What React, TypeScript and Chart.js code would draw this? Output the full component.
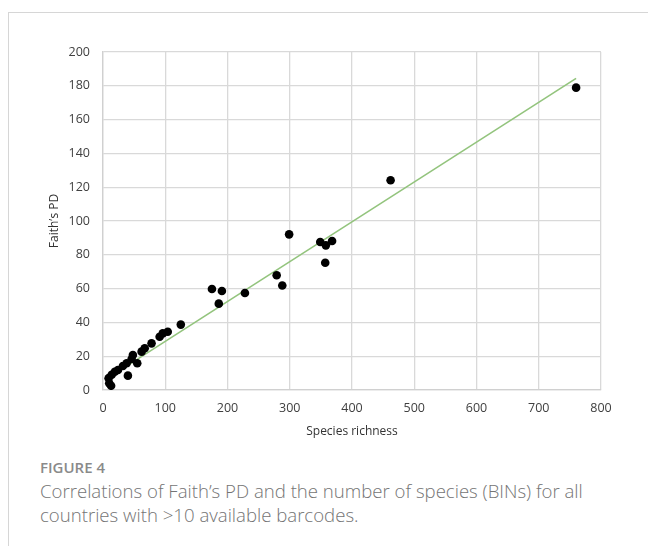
import React, { useEffect, useRef } from "react";
import { Chart, registerables } from "chart.js";

Chart.register(...registerables);

const speciesRichness = [9, 10, 13, 14, 19, 24, 32, 38, 40, 46, 48, 55, 62, 67, 78, 91, 96, 104, 125, 175, 186, 191, 228, 279, 288, 299, 349, 358, 357, 368, 462, 760];
const faithPD = [7, 4, 2.5, 9, 10.8, 11.8, 14.2, 15.8, 8.5, 18.3, 20.7, 15.8, 22.7, 24.7, 27.6, 31.5, 33.5, 34.5, 38.7, 59.8, 51.1, 58.6, 57.4, 67.9, 61.8, 92.1, 87.6, 85.6, 75.3, 88.2, 124.1, 178.9];

const trendX = [9, 760];
const trendY = [7.3, 184.4];

const xTicks = [0, 100, 200, 300, 400, 500, 600, 700, 800];
const yTicks = [0, 20, 40, 60, 80, 100, 120, 140, 160, 180, 200];

export default function App() {
  const ref = useRef<HTMLCanvasElement>(null);
  useEffect(() => {
    if (!ref.current) return;
    const chart = new Chart(ref.current, {
      type: "scatter",
      data: {
        datasets: [
          {
            type: "line",
            data: trendX.map((x, i) => ({ x, y: trendY[i] })),
            borderColor: "#93c47d",
            borderWidth: 1.6,
            pointRadius: 0,
            fill: false,
            order: 2,
          } as any,
          {
            data: speciesRichness.map((x, i) => ({ x, y: faithPD[i] })),
            backgroundColor: "#000000",
            borderColor: "#000000",
            pointRadius: 4.3,
            borderWidth: 0,
            order: 1,
          },
        ],
      },
      options: {
        responsive: false,
        animation: false,
        layout: { padding: { left: 0, right: 47, top: 52, bottom: 0 } },
        plugins: { legend: { display: false }, tooltip: { enabled: false } },
        scales: {
          x: {
            type: "linear",
            min: 0,
            max: 800,
            afterBuildTicks: (s: any) => {
              s.ticks = xTicks.map((v) => ({ value: v }));
            },
            afterFit: (s: any) => {
              s.height = 60;
            },
            grid: { color: "#d9d9d9", lineWidth: 1.3, drawTicks: false },
            border: { color: "#d0d0d0", width: 1.3 },
            ticks: {
              padding: 11,
              color: "#404040",
              font: { family: "Open Sans", size: 12.5 },
            },
            title: {
              display: true,
              text: "Species richness",
              color: "#333333",
              font: { family: "Open Sans", size: 12 },
              padding: { top: 0, bottom: 11 },
            },
          },
          y: {
            type: "linear",
            min: 0,
            max: 200,
            afterBuildTicks: (s: any) => {
              s.ticks = yTicks.map((v) => ({ value: v }));
            },
            afterFit: (s: any) => {
              s.width = 103;
            },
            grid: { color: "#d9d9d9", lineWidth: 1.3, drawTicks: false },
            border: { color: "#d0d0d0", width: 1.3 },
            ticks: {
              padding: 13,
              color: "#404040",
              font: { family: "Open Sans", size: 12.5 },
            },
            title: {
              display: true,
              text: "Faith’s PD",
              color: "#333333",
              font: { family: "Open Sans", size: 12 },
              padding: { top: 47, bottom: 0 },
            },
          },
        },
      },
    });
    return () => chart.destroy();
  }, []);

  return (
    <div
      style={{
        position: "fixed",
        left: 0,
        top: 0,
        width: 648,
        height: 546,
        background: "#ffffff",
        overflow: "hidden",
      }}
    >
      <div
        style={{
          position: "absolute",
          left: 8,
          top: 12,
          width: 640,
          height: 534,
          borderTop: "1px solid #d6d6d6",
          borderLeft: "1px solid #d6d6d6",
          boxSizing: "border-box",
        }}
      />
      <canvas
        ref={ref}
        width={648}
        height={450}
        style={{ position: "absolute", left: 0, top: 0, width: 648, height: 450 }}
      />
      <div
        style={{
          position: "absolute",
          left: 40,
          top: 457,
          fontFamily: "Open Sans",
          fontSize: 15,
          fontWeight: 600,
          color: "#8a8a8a",
          lineHeight: "20px",
          whiteSpace: "nowrap",
        }}
      >
        FIGURE 4
      </div>
      <div
        style={{
          position: "absolute",
          left: 40,
          top: 479,
          fontFamily: "Open Sans",
          fontSize: 18.6,
          fontWeight: 300,
          color: "#747474",
          lineHeight: "24px",
          whiteSpace: "nowrap",
        }}
      >
        Correlations of Faith’s PD and the number of species (BINs) for all
        <br />
        countries with &gt;10 available barcodes.
      </div>
    </div>
  );
}
